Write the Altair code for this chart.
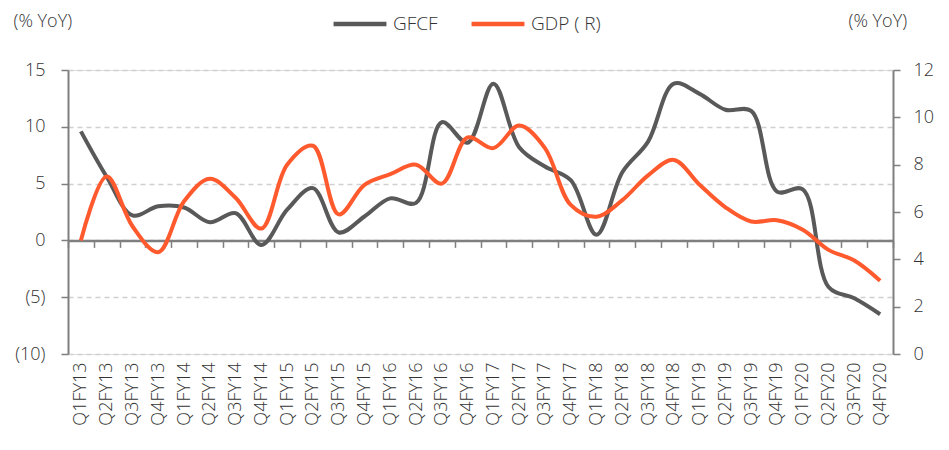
import altair as alt
import pandas as pd

quarters = [
    "Q1FY13", "Q2FY13", "Q3FY13", "Q4FY13",
    "Q1FY14", "Q2FY14", "Q3FY14", "Q4FY14",
    "Q1FY15", "Q2FY15", "Q3FY15", "Q4FY15",
    "Q1FY16", "Q2FY16", "Q3FY16", "Q4FY16",
    "Q1FY17", "Q2FY17", "Q3FY17", "Q4FY17",
    "Q1FY18", "Q2FY18", "Q3FY18", "Q4FY18",
    "Q1FY19", "Q2FY19", "Q3FY19", "Q4FY19",
    "Q1FY20", "Q2FY20", "Q3FY20", "Q4FY20",
]
gfcf = [
    9.6, 5.6, 2.2, 3.0,
    2.9, 1.6, 2.4, -0.4,
    2.7, 4.6, 0.7, 2.1,
    3.7, 3.3, 10.4, 8.6,
    13.8, 8.2, 6.5, 5.3,
    0.5, 6.0, 8.7, 13.8,
    12.9, 11.5, 11.4, 4.3,
    4.5, -4.1, -5.1, -6.5,
]
gdp = [
    4.8, 7.5, 5.4, 4.3,
    6.45, 7.4, 6.6, 5.3,
    8.0, 8.8, 5.9, 7.15,
    7.6, 8.0, 7.2, 9.15,
    8.7, 9.65, 8.7, 6.3,
    5.8, 6.5, 7.55, 8.2,
    7.15, 6.2, 5.6, 5.65,
    5.25, 4.4, 3.95, 3.1,
]
series_names = ["GFCF", "GDP ( R)"]
series_colors = ["#595959", "#FF5A2E"]
left_ticks = [-10, -5, 0, 5, 10, 15]
right_ticks = [0, 2, 4, 6, 8, 10, 12]

df = pd.DataFrame({"quarter": quarters, "GFCF": gfcf, "GDP": gdp})

FONT = "Open Sans"
WEIGHT = 300
AXIS_GRAY = "#7f7f7f"
LABEL = "#333333"
H = 284
W = 825

x_enc = alt.X(
    "quarter:N",
    sort=quarters,
    bandPosition=0.5,
    scale=alt.Scale(type="band", paddingInner=0, paddingOuter=0),
    axis=alt.Axis(
        title=None,
        labelAngle=-90,
        offset=-H * 10 / 25,
        domainColor=AXIS_GRAY,
        domainWidth=2.5,
        tickColor=AXIS_GRAY,
        tickWidth=1.5,
        tickSize=7,
        tickBand="extent",
        labelPadding=H * 10 / 25 + 1,
        labelFontSize=18,
        labelFontWeight=WEIGHT,
        labelColor=LABEL,
        labelFont=FONT,
        grid=False,
    ),
)

color_enc = alt.Color(
    "series:N",
    scale=alt.Scale(domain=series_names, range=series_colors),
    legend=alt.Legend(
        title=None,
        orient="none",
        direction="horizontal",
        legendX=263,
        legendY=-75,
        symbolType="stroke",
        symbolSize=2800,
        symbolStrokeWidth=4.5,
        labelFontSize=19,
        labelFontWeight=WEIGHT,
        labelFont=FONT,
        labelColor=LABEL,
        labelOffset=4,
        columnPadding=24,
    ),
)

gfcf_line = (
    alt.Chart(df)
    .transform_calculate(series="'GFCF'")
    .mark_line(strokeWidth=4, interpolate="catmull-rom")
    .encode(
        x=x_enc,
        y=alt.Y(
            "GFCF:Q",
            scale=alt.Scale(domain=[-10, 15], nice=False, zero=False),
            axis=alt.Axis(
                values=left_ticks,
                title="(% YoY)",
                titleAngle=0,
                titleAlign="left",
                titleBaseline="middle",
                titleX=-55,
                titleY=-49,
                titleFontSize=18,
                titleFontWeight=WEIGHT,
                titleFont=FONT,
                titleColor=LABEL,
                labelExpr="datum.value < 0 ? '(' + format(abs(datum.value), 'd') + ')' : format(datum.value, 'd')",
                labelFontSize=18,
                labelFontWeight=WEIGHT,
                labelFont=FONT,
                labelColor=LABEL,
                labelPadding=16,
                domainColor=AXIS_GRAY,
                domainWidth=2,
                tickColor=AXIS_GRAY,
                tickWidth=1.5,
                tickSize=7,
                grid=True,
                gridDash=[5, 4],
                gridColor="#d0d0d0",
                gridWidth=1.5,
            ),
        ),
        color=color_enc,
    )
)

gdp_line = (
    alt.Chart(df)
    .transform_calculate(series="'GDP ( R)'")
    .mark_line(strokeWidth=4, interpolate="catmull-rom")
    .encode(
        x=x_enc,
        y=alt.Y(
            "GDP:Q",
            scale=alt.Scale(domain=[0, 12], nice=False),
            axis=alt.Axis(
                orient="right",
                values=right_ticks,
                title="(% YoY)",
                titleAngle=0,
                titleAlign="left",
                titleBaseline="middle",
                titleX=-45,
                titleY=-49,
                titleFontSize=18,
                titleFontWeight=WEIGHT,
                titleFont=FONT,
                titleColor=LABEL,
                labelFontSize=18,
                labelFontWeight=WEIGHT,
                labelFont=FONT,
                labelColor=LABEL,
                labelPadding=13,
                domainColor=AXIS_GRAY,
                domainWidth=2,
                tickColor=AXIS_GRAY,
                tickWidth=1.5,
                tickSize=7,
                grid=False,
            ),
        ),
        color=color_enc,
    )
)

chart = (
    alt.layer(gfcf_line, gdp_line)
    .resolve_scale(y="independent")
    .properties(
        width=W,
        height=H,
        autosize=alt.AutoSizeParams(type="none"),
        padding={"left": 60, "top": 62, "right": 48, "bottom": 76},
    )
    .configure_view(stroke=None)
    .configure(background="white")
)

chart.save("out.html", embed_options={"renderer": "svg", "actions": False})
